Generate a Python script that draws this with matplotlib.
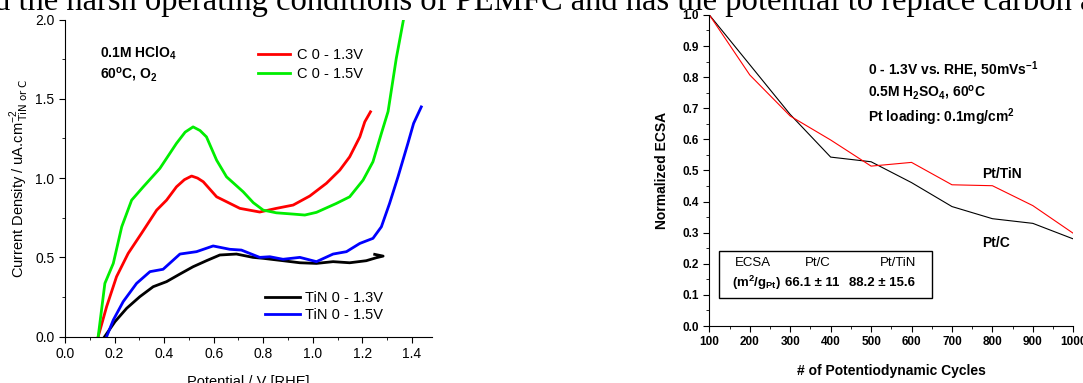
import matplotlib
matplotlib.use("Agg")
import matplotlib.pyplot as plt
from matplotlib.patches import Rectangle
from matplotlib.ticker import MultipleLocator

plt.rcParams['font.family'] = ['Liberation Sans', 'DejaVu Sans']
plt.rcParams['mathtext.default'] = 'regular'

# --- left panel: current density vs potential ---
c13_x = [0.134, 0.168, 0.208, 0.255, 0.309, 0.370, 0.410, 0.450, 0.482, 0.511, 0.535, 0.558,
         0.612, 0.652, 0.706, 0.786, 0.853, 0.921, 0.988, 1.055, 1.109, 1.149, 1.190, 1.210,
         1.233]
c13_y = [0.0, 0.189, 0.378, 0.525, 0.652, 0.798, 0.861, 0.945, 0.990, 1.013, 1.000, 0.977,
         0.882, 0.851, 0.809, 0.786, 0.809, 0.830, 0.887, 0.967, 1.050, 1.134, 1.260, 1.355,
         1.418]

c15_x = [0.134, 0.161, 0.195, 0.229, 0.269, 0.316, 0.383, 0.450, 0.485, 0.517, 0.545, 0.571,
         0.612, 0.652, 0.719, 0.760, 0.800, 0.853, 0.921, 0.968, 1.015, 1.095, 1.149, 1.203,
         1.243, 1.277, 1.304, 1.337, 1.367]
c15_y = [0.0, 0.336, 0.462, 0.693, 0.861, 0.945, 1.061, 1.219, 1.290, 1.323, 1.300, 1.260,
         1.113, 1.008, 0.914, 0.845, 0.798, 0.781, 0.773, 0.767, 0.784, 0.840, 0.882, 0.987,
         1.103, 1.282, 1.420, 1.754, 2.006]

tin13_x = [0.160, 0.202, 0.249, 0.302, 0.356, 0.410, 0.464, 0.517, 0.571, 0.625, 0.692, 0.759,
           0.800, 0.880, 0.948, 1.015, 1.082, 1.149, 1.216, 1.257, 1.284, 1.250]
tin13_y = [0.0, 0.095, 0.179, 0.252, 0.315, 0.347, 0.395, 0.441, 0.479, 0.515, 0.521, 0.500,
           0.494, 0.479, 0.466, 0.462, 0.473, 0.466, 0.479, 0.498, 0.508, 0.519]

tin15_x = [0.168, 0.195, 0.235, 0.289, 0.343, 0.396, 0.464, 0.531, 0.598, 0.665, 0.712, 0.786,
           0.827, 0.880, 0.948, 1.015, 1.082, 1.136, 1.190, 1.243, 1.277, 1.310, 1.344, 1.384,
           1.407, 1.438]
tin15_y = [0.0, 0.105, 0.221, 0.336, 0.410, 0.425, 0.521, 0.536, 0.572, 0.551, 0.546, 0.500,
           0.504, 0.488, 0.500, 0.473, 0.521, 0.536, 0.588, 0.620, 0.693, 0.840, 1.008, 1.219,
           1.345, 1.449]

# --- right panel: normalized ECSA ---
cycles = [100, 200, 300, 400, 500, 600, 700, 800, 900, 1000]
ecsa_ptc = [1.0, 0.84, 0.68, 0.543, 0.528, 0.461, 0.384, 0.345, 0.330, 0.280]
ecsa_pttin = [1.0, 0.807, 0.675, 0.598, 0.514, 0.526, 0.454, 0.451, 0.387, 0.298]

fig = plt.figure(figsize=(10.83, 3.83), dpi=100)

fig.text(-0.006, 0.974, "d the harsh operating conditions of PEMFC and has the potential to replace carbon as",
         family='Liberation Serif', fontsize=23.5, va='baseline', ha='left')

ax1 = fig.add_axes([0.060, 0.121, 0.3386, 0.828])
ax1.plot(c13_x, c13_y, color='#ff0000', lw=2, label='C 0 - 1.3V')
ax1.plot(c15_x, c15_y, color='#00ee00', lw=2, label='C 0 - 1.5V')
ax1.plot(tin13_x, tin13_y, color='black', lw=2, label='TiN 0 - 1.3V')
ax1.plot(tin15_x, tin15_y, color='#0000ff', lw=2, label='TiN 0 - 1.5V')
ax1.set_xlim(0, 1.48)
ax1.set_ylim(0, 2.0)
ax1.xaxis.set_major_locator(MultipleLocator(0.2))
ax1.xaxis.set_minor_locator(MultipleLocator(0.1))
ax1.yaxis.set_major_locator(MultipleLocator(0.5))
ax1.yaxis.set_minor_locator(MultipleLocator(0.25))
ax1.xaxis.set_major_formatter(plt.FormatStrFormatter('%.1f'))
ax1.yaxis.set_major_formatter(plt.FormatStrFormatter('%.1f'))
for s in ['top', 'right']:
    ax1.spines[s].set_visible(False)
ax1.tick_params(which='major', direction='out', length=4, labelsize=10)
ax1.tick_params(which='minor', direction='out', length=2.5)
ax1.set_xlabel('Potential / V [RHE]', fontsize=10.5, labelpad=10)
ax1.set_ylabel(r'Current Density / uA.cm$^{-2}_{\,\mathrm{TiN\ or\ C}}$', fontsize=10.5, labelpad=3)

h = ax1.get_lines()
leg1 = ax1.legend(h[:2], ['C 0 - 1.3V', 'C 0 - 1.5V'], loc='center left',
                  bbox_to_anchor=(0.526, 0.858), frameon=False, fontsize=10.5,
                  borderpad=0, borderaxespad=0, handlelength=2.2, handletextpad=0.45,
                  labelspacing=0.35)
ax1.add_artist(leg1)
ax1.legend([h[2], h[3]], ['TiN 0 - 1.3V', 'TiN 0 - 1.5V'], loc='center left',
           bbox_to_anchor=(0.545, 0.094), frameon=False, fontsize=10.5,
           borderpad=0, borderaxespad=0, handlelength=2.4, handletextpad=0.35,
           labelspacing=0.2)

ax1.text(0.095, 0.894, r'0.1M HClO$_4$', transform=ax1.transAxes, fontsize=10,
         fontweight='bold', va='center')
ax1.text(0.095, 0.825, r'60$^o$C, O$_2$', transform=ax1.transAxes, fontsize=10,
         fontweight='bold', va='center')

ax2 = fig.add_axes([0.655, 0.1488, 0.336, 0.8122])
ax2.plot(cycles, ecsa_ptc, color='black', lw=0.8)
ax2.plot(cycles, ecsa_pttin, color='#ff0000', lw=0.8)
ax2.set_xlim(100, 1000)
ax2.set_ylim(0, 1.0)
ax2.xaxis.set_major_locator(MultipleLocator(100))
ax2.xaxis.set_minor_locator(MultipleLocator(50))
ax2.yaxis.set_major_locator(MultipleLocator(0.1))
ax2.yaxis.set_minor_locator(MultipleLocator(0.05))
ax2.yaxis.set_major_formatter(plt.FormatStrFormatter('%.1f'))
for s in ['top', 'right']:
    ax2.spines[s].set_visible(False)
ax2.tick_params(which='major', direction='out', length=4, labelsize=8.5)
ax2.tick_params(which='minor', direction='out', length=2)
for lab in ax2.get_xticklabels() + ax2.get_yticklabels():
    lab.set_fontweight('bold')
ax2.set_xlabel('# of Potentiodynamic Cycles', fontsize=10, fontweight='bold', labelpad=11)
ax2.set_ylabel('Normalized ECSA', fontsize=10, fontweight='bold', labelpad=10)

ax2.text(0.436, 0.823, r'0 - 1.3V vs. RHE, 50mVs$^{-1}$', transform=ax2.transAxes,
         fontsize=10, fontweight='bold', va='center')
ax2.text(0.436, 0.749, r'0.5M H$_2$SO$_4$, 60$^o$C', transform=ax2.transAxes,
         fontsize=10, fontweight='bold', va='center')
ax2.text(0.436, 0.672, r'Pt loading: 0.1mg/cm$^2$', transform=ax2.transAxes,
         fontsize=10, fontweight='bold', va='center')
ax2.text(0.749, 0.489, 'Pt/TiN', transform=ax2.transAxes, fontsize=10,
         fontweight='bold', va='center')
ax2.text(0.749, 0.267, 'Pt/C', transform=ax2.transAxes, fontsize=10,
         fontweight='bold', va='center')

ax2.add_patch(Rectangle((0.027, 0.090), 0.585, 0.151, transform=ax2.transAxes,
                        fill=False, edgecolor='black', lw=1))
ax2.text(0.120, 0.203, 'ECSA', transform=ax2.transAxes, fontsize=9.5, ha='center', va='center')
ax2.text(0.299, 0.203, 'Pt/C', transform=ax2.transAxes, fontsize=9.5, ha='center', va='center')
ax2.text(0.518, 0.203, 'Pt/TiN', transform=ax2.transAxes, fontsize=9.5, ha='center', va='center')
ax2.text(0.131, 0.138, r'(m$^2$/g$_{Pt}$)', transform=ax2.transAxes, fontsize=9.5,
         fontweight='bold', ha='center', va='center')
ax2.text(0.282, 0.138, '66.1 \u00b1 11', transform=ax2.transAxes, fontsize=9.5,
         fontweight='bold', ha='center', va='center')
ax2.text(0.474, 0.138, '88.2 \u00b1 15.6', transform=ax2.transAxes, fontsize=9.5,
         fontweight='bold', ha='center', va='center')

fig.savefig('out.png', dpi=100)
